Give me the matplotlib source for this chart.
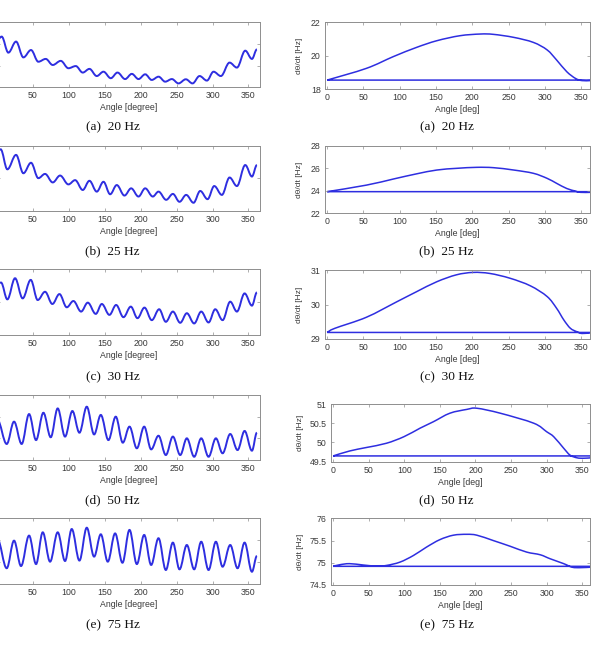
import numpy as np
import matplotlib
matplotlib.use('Agg')
import matplotlib.pyplot as plt
from matplotlib.path import Path
from matplotlib.patches import PathPatch

############ data ############

captions = ['(a)  20 Hz', '(b)  25 Hz', '(c)  30 Hz', '(d)  50 Hz', '(e)  75 Hz']

# left column: ripple curves, extrema (peak / trough) positions, arbitrary units
leftAngle20 = [0, 6.9, 16.2, 26.9, 37.1, 47.7, 57.9, 68.1, 77.9, 89, 99.7, 109.9, 119.6, 128.9, 139.1, 148.4,
               158.6, 167.9, 178.5, 187.8, 197.1, 206.4, 215.5, 225, 234.2, 243.5, 252.7, 262.9, 272.2, 282,
               292.2, 301.4, 311.6, 323.7, 333.9, 345.5, 354.8, 361.7]
leftValue20 = [2.15, 2.34, 1.60, 2.11, 1.38, 1.72, 1.18, 1.31, 1.03, 1.22, 0.88, 0.98, 0.68, 0.85, 0.52, 0.72,
               0.42, 0.68, 0.38, 0.62, 0.38, 0.60, 0.34, 0.49, 0.26, 0.38, 0.18, 0.37, 0.18, 0.52,
               0.31, 0.72, 0.52, 1.14, 0.91, 1.69, 1.31, 1.75]

leftAngle25 = [0, 5.5, 14.8, 26.9, 37.1, 47.7, 57.9, 67.2, 77.9, 88.1, 99.7, 109, 119.6, 128.9, 139.1, 148.4,
               157.7, 166.9, 177.6, 186.9, 197.1, 206.4, 217, 224.9, 235.6, 244.9, 254.1, 263.4, 273.6, 282.9,
               293.1, 302.4, 313, 323.7, 333.9, 345.5, 354.8, 361.7]
leftValue25 = [1.82, 1.89, 1.28, 1.72, 1.16, 1.48, 1.01, 1.14, 0.88, 1.09, 0.82, 0.95, 0.65, 0.93, 0.60, 0.90,
               0.52, 0.80, 0.48, 0.70, 0.45, 0.70, 0.45, 0.60, 0.35, 0.53, 0.29, 0.50, 0.26, 0.62,
               0.37, 0.77, 0.50, 1.03, 0.77, 1.41, 1.06, 1.41]

leftAngle30 = [0, 6, 14.8, 25.5, 36.1, 47.3, 57, 67.2, 77.4, 87.2, 97.4, 106.6, 117.3, 126.6, 137.7, 146.1,
               156.7, 166, 176.2, 186.4, 195.7, 205.4, 215.6, 225.8, 235.1, 244.9, 255.1, 264.3, 274.5, 284.3,
               294.5, 303.8, 314, 324.6, 333.9, 344.6, 354.8, 361.7]
leftValue30 = [1.55, 1.59, 1.08, 1.72, 1.11, 1.67, 1.06, 1.31, 0.94, 1.24, 0.84, 1.03, 0.71, 0.98, 0.64, 0.94,
               0.61, 0.91, 0.54, 0.86, 0.51, 0.83, 0.45, 0.78, 0.40, 0.71, 0.37, 0.66, 0.35, 0.71,
               0.38, 0.78, 0.45, 1.01, 0.71, 1.26, 0.89, 1.29]

leftAngle50 = [1, 13.9, 24.1, 34.7, 45, 54.7, 64.9, 75.1, 84.8, 95, 105.2, 115, 125.2, 135.4, 144.7, 155.3,
               165.5, 175.3, 184.6, 194.8, 205, 214.7, 224.9, 235.1, 244.9, 255.1, 264.3, 274.5, 284.3, 294.5,
               304.7, 314, 324.6, 334.8, 344.6, 354.8, 361.7]
leftValue50 = [1.85, 0.74, 1.77, 0.74, 2.12, 0.92, 2.18, 1.05, 2.38, 1.08, 2.26, 1.26, 2.46, 1.18, 2.08, 0.92,
               2.0, 0.80, 1.54, 0.54, 1.54, 0.49, 1.12, 0.23, 1.08, 0.23, 1.0, 0.15, 1.0, 0.15,
               1.0, 0.31, 1.2, 0.46, 1.34, 0.43, 1.26]

leftAngle75 = [1, 13.9, 24.1, 33.8, 45, 54.7, 64, 74.2, 84.8, 95, 104.3, 115, 125.2, 135.4, 144.7, 154.4,
               164.6, 174.8, 184.6, 194.8, 205, 214.7, 224.9, 235.1, 244.9, 254.1, 264.3, 274.5, 284.3, 294.5,
               304.7, 314, 324.6, 334.8, 344.6, 354.8, 361.7]
leftValue75 = [2.05, 0.72, 1.98, 0.82, 2.21, 0.91, 2.36, 1.02, 2.36, 1.05, 2.51, 1.07, 2.57, 1.25, 2.27, 1.02,
               2.31, 0.97, 2.47, 0.91, 2.24, 0.87, 2.09, 0.64, 1.89, 0.67, 1.78, 0.67, 1.93, 0.64,
               1.93, 0.79, 1.78, 0.72, 1.89, 0.56, 1.28]

leftYMax = [3, 2, 2, 3, 3]
leftYTicks = [[1, 2], [1], [1], [1, 2], [1, 2]]

# right column: d(theta)/dt loops, upper branch then flat return branch (last two points)
rightAngle20 = [0, 54, 91, 123, 151, 183, 211, 229, 257, 284, 303, 316, 330, 342, 351, 362, 362, 0]
rightValue20 = [18.55, 19.25, 19.95, 20.5, 20.9, 21.2, 21.3, 21.28, 21.1, 20.8, 20.35, 19.75, 19.05, 18.65,
                18.52, 18.52, 18.55, 18.55]

rightAngle25 = [0, 54, 91, 123, 151, 178, 206, 229, 257, 284, 303, 316, 330, 342, 349, 362, 362, 0]
rightValue25 = [23.92, 24.5, 25.04, 25.5, 25.84, 25.99, 26.08, 26.05, 25.84, 25.55, 25.1, 24.66, 24.2, 23.97,
                23.86, 23.86, 23.92, 23.92]

rightAngle30 = [0, 10.6, 54, 96, 123, 151, 178, 201, 224, 252, 280, 303, 316, 326, 335, 344, 351, 362, 362, 0]
rightValue30 = [29.19, 29.31, 29.63, 30.08, 30.37, 30.66, 30.86, 30.93, 30.9, 30.76, 30.54, 30.23, 29.89,
                29.55, 29.31, 29.21, 29.16, 29.18, 29.19, 29.19]

rightAngle50 = [0, 23.5, 47, 75, 99.5, 122, 141, 164, 188, 202, 235, 282, 300, 310, 324, 333, 343, 352, 362,
                362, 0]
rightValue50 = [49.65, 49.78, 49.87, 49.98, 50.15, 50.37, 50.54, 50.76, 50.86, 50.89, 50.76, 50.5, 50.28,
                50.15, 49.85, 49.67, 49.6, 49.59, 49.6, 49.65, 49.65]

rightAngle75 = [0, 9, 23, 42, 61, 75, 94, 113, 131, 150, 169, 188, 202, 225, 249, 272, 291, 305, 324, 336,
                347, 362, 362, 0]
rightValue75 = [74.92, 74.955, 74.98, 74.95, 74.925, 74.94, 75.015, 75.165, 75.35, 75.52, 75.62, 75.64,
                75.62, 75.50, 75.37, 75.24, 75.18, 75.09, 74.98, 74.9, 74.89, 74.9, 74.92, 74.92]

rightYTicks = [[18, 20, 22], [22, 24, 26, 28], [29, 30, 31], [49.5, 50, 50.5, 51], [74.5, 75, 75.5, 76]]
xTicks = [0, 50, 100, 150, 200, 250, 300, 350]

############ graphics settings ############

W, H = 591, 645
lineColor = '#2e2ee0'
spineColor = '#8e8e8e'
textColor = '#3a3a3a'
axFont = 'Liberation Sans'
axFontSize = 6.3
captionFont = 'Liberation Serif'
captionSize = 9.6

# panel boxes in pixels: (left, top, right, bottom)
leftBoxes = [(-3.3, 22.3, 260, 87.3), (-3.3, 145.7, 260, 211.3), (-3.3, 269, 260, 335),
             (-3.3, 395, 260, 460), (-3.3, 518.3, 260, 584)]
rightBoxes = [(325, 22.3, 590, 89.3), (325, 145.7, 590, 213.3), (325, 270, 590, 339),
              (331, 404, 590, 461.7), (331, 518.3, 590, 585)]
rightXLims = [(-3, 362), (-3, 362), (-3, 362), (-3, 361), (-3, 361)]
captionY = [127.5, 251.7, 377, 500.5, 625]


def _addAxes(fig, box):
    l, t, r, b = box
    return fig.add_axes([l / W, 1 - b / H, (r - l) / W, (b - t) / H])


def _styleAxes(ax):
    for s in ax.spines.values():
        s.set_color(spineColor)
        s.set_linewidth(0.7)
    ax.tick_params(axis='both', direction='in', length=2.5, width=0.5, color=spineColor,
                   top=True, right=True, labelsize=axFontSize, labelcolor=textColor, pad=3)
    for lab in ax.get_xticklabels() + ax.get_yticklabels():
        lab.set_family(axFont)


def _extremaPath(xs, ys):
    # cubic segments with flat tangents at each extremum
    verts = [(xs[0], ys[0])]
    codes = [Path.MOVETO]
    for i in range(len(xs) - 1):
        d = 0.364 * (xs[i + 1] - xs[i])
        verts += [(xs[i] + d, ys[i]), (xs[i + 1] - d, ys[i + 1]), (xs[i + 1], ys[i + 1])]
        codes += [Path.CURVE4] * 3
    return Path(verts, codes)


def _loopPath(xs, ys):
    # smooth (Catmull-Rom) upper branch, straight return branch
    p = np.column_stack([xs[:-2], ys[:-2]]).astype(float)
    n = len(p)
    verts = [tuple(p[0])]
    codes = [Path.MOVETO]
    for i in range(n - 1):
        p0 = p[max(i - 1, 0)]
        p3 = p[min(i + 2, n - 1)]
        c1 = p[i] + (p[i + 1] - p0) / 6
        c2 = p[i + 1] - (p3 - p[i]) / 6
        verts += [tuple(c1), tuple(c2), tuple(p[i + 1])]
        codes += [Path.CURVE4] * 3
    verts += [(xs[-2], ys[-2]), (xs[-1], ys[-1])]
    codes += [Path.LINETO, Path.LINETO]
    return Path(verts, codes)


fig = plt.figure(figsize=(W / 100, H / 100), dpi=100)

leftData = [(leftAngle20, leftValue20), (leftAngle25, leftValue25), (leftAngle30, leftValue30),
            (leftAngle50, leftValue50), (leftAngle75, leftValue75)]
rightData = [(rightAngle20, rightValue20), (rightAngle25, rightValue25), (rightAngle30, rightValue30),
             (rightAngle50, rightValue50), (rightAngle75, rightValue75)]

for i in range(5):
    # left: ripple
    ax = _addAxes(fig, leftBoxes[i])
    xs, ys = leftData[i]
    ax.add_patch(PathPatch(_extremaPath(xs, ys), facecolor='none', edgecolor=lineColor, lw=1.4))
    ax.set_xlim(0, 366)
    ax.set_ylim(0, leftYMax[i])
    ax.set_xticks(xTicks[1:])
    ax.set_yticks(leftYTicks[i])
    _styleAxes(ax)
    ax.tick_params(labelleft=False)
    ax.set_xlabel('Angle [degree]', fontsize=axFontSize, family=axFont, color=textColor, labelpad=2)

    # right: speed loop
    ax = _addAxes(fig, rightBoxes[i])
    xs, ys = rightData[i]
    ax.add_patch(PathPatch(_loopPath(xs, ys), facecolor='none', edgecolor=lineColor, lw=1.1))
    ax.set_xlim(*rightXLims[i])
    yt = rightYTicks[i]
    ax.set_ylim(yt[0], yt[-1])
    ax.set_xticks(xTicks)
    ax.set_yticks(yt)
    ax.set_yticklabels([f'{v:g}' for v in yt])
    _styleAxes(ax)
    ax.set_xlabel('Angle [deg]', fontsize=axFontSize, family=axFont, color=textColor, labelpad=2)
    ax.set_ylabel('d\u03b8/dt [Hz]', fontsize=axFontSize - 0.3, family=axFont, color=textColor)
    l, t, r, b = rightBoxes[i]
    ax.yaxis.set_label_coords((303.5 - l) / (r - l), 0.5)

    fig.text(112.7 / W, 1 - captionY[i] / H, captions[i], ha='center', va='center',
             family=captionFont, size=captionSize, color='#111111')
    fig.text(446.5 / W, 1 - captionY[i] / H, captions[i], ha='center', va='center',
             family=captionFont, size=captionSize, color='#111111')

fig.savefig('out.png', dpi=100)
